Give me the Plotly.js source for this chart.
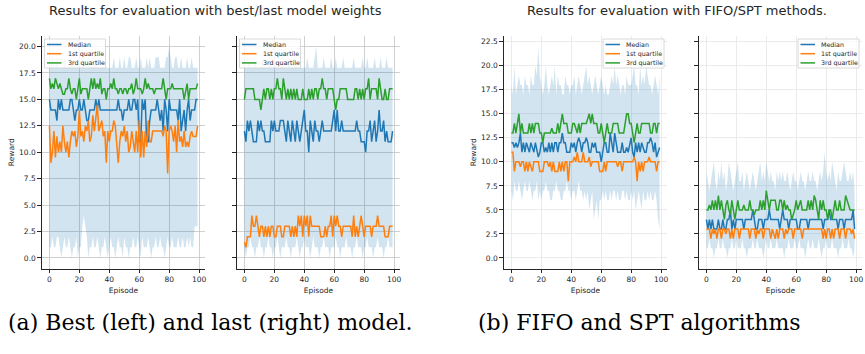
<!DOCTYPE html>
<html>
<head>
<meta charset="utf-8">
<script src="https://cdn.plot.ly/plotly-3.0.1.min.js"></script>
<style>
html,body{margin:0;padding:0;background:#fff;}
#chart{width:865px;height:354px;}
</style>
</head>
<body>
<div id="chart"></div>
<script>
// ---------- data ----------
const episodes = Array.from({length: 100}, (_, i) => i);
const seriesNames = ["Median", "1st quartile", "3rd quartile"];
const panelTitles = ["Results for evaluation with best/last model weights", "Results for evaluation with FIFO/SPT methods."];
const captions = ["(a) Best (left) and last (right) model.", "(b) FIFO and SPT algorithms"];
const xTicks = [0, 20, 40, 60, 80, 100];
const yTicksA = [0, 2.5, 5, 7.5, 10, 12.5, 15, 17.5, 20];
const yTicksB = [0, 2.5, 5, 7.5, 10, 12.5, 15, 17.5, 20, 22.5];

// Panel 1: best model
const bestMedian = [15,14,14,14,14,13,15,14,15,14, 14,14,14,14,15,15,14,13,14,14, 15,14,14,15,14,13,13,14,14,14,
  14,15,14,15,14,14,14,14,14,14, 14,14,14,14,14,14,15,14,14,13, 14,14,14,15,14,14,15,15,14,15,
  11,11,15,14,15,11,11,13,14,14, 14,14,15,14,13,14,12,15,14,12, 15,14,14,14,14,14,13,15,12,13,
  14,12,14,15,13,14,14,14,15,15];
const bestQ1 = [12.5,9,10,12,9.5,11.5,10,11,10,12.5, 11,10,11,9.5,11,12,11.5,12,10.5,11.5, 14,11.5,12,11,12.5,12,13,11,11.5,13.5,
  12,13,14.5,12,12.5,13,11.5,12,9,12, 11,12,12,13,12.5,11,9,11,12,11.5, 12.5,11,12,10,10.5,12,11,10,12,10,
  13,9.5,12,9.5,12,10.5,13,11,11,12, 12,12,12,12,12,12,11.5,12.5,12,8, 12,12.5,12,11,12.5,10,13,11,11.5,10.5,
  12,10.5,11,10.5,11.5,12,11.5,11.5,11.5,12.5];
const bestQ3 = [17,16,16.5,16,17,16.5,16,16.5,16,15.5, 15.5,16,16,17,16,15.5,16,16,15,16, 17,15.5,16,16,16,16,15,16,17,16,
  17,16,16.5,16,17,15.5,16,16,15,16, 16,16.5,16,17,16,16,15.5,16,16,15.5, 16,16,15.5,16,16,16.5,15.5,16,17,16,
  16,16,15.5,16,17,16,16.5,16,16,16, 15.5,16,16,16,16,16,17,16,15,16, 16,16,16.5,16,16,16,16,16,16,16,
  15,16,16.5,15,16,16,16,16,16,16.5];
const bestMin = [1,1,2,1,1,2,2,1,0,1, 2,1,1,2,1,0,1,1,2,0, 1,1,3,4,3,2,0,1,1,2, 1,1,2,1,0,1,1,2,1,0,
  1,2,1,1,0,1,2,1,1,0, 2,1,1,0,1,1,2,1,1,2, 1,0,2,1,1,1,2,1,0,1, 1,2,1,1,2,1,1,0,1,2,
  1,1,2,1,1,1,2,1,1,2, 1,1,2,1,2,1,1,3,3,3];
const bestMax = [18,18,19,18,18,19,18,18,18,18, 19,18,18,18,18,19,18,18,18,19, 18,18,18,18,18,18,19,18,18,18,
  18,19,18,18,18,18,18,18,18,18, 18,18,18,19,18,18,18,19,18,18, 19,18,18,19,19,18,18,18,19,18,
  18,19,18,18,18,19,18,19,18,18, 18,19,19,19,18,18,18,18,19,19, 20,19,18,18,19,19,18,18,19,18,
  18,18,19,18,18,19,18,18,18,18];

// Panel 2: last model
const lastMedian = [12,11,13,12,13,12,11,11,11,13, 12,13,12,12,11,11,11,11,13,12, 13,12,12,12,13,13,13,12,11,13,
  12,11,13,12,11,13,12,11,12,13, 14,12,12,10,13,12,11,13,12,12, 11,12,13,12,12,12,12,12,12,13,
  14,12,14,12,12,13,12,12,12,12, 12,12,12,12,12,13,12,12,11,11, 11,10,12,12,13,11,12,13,11,12,
  14,12,12,13,11,12,11,11,11,12];
const lastQ1 = [1.5,1,2,2,2,4,3,3,4,3, 2,3,3,2,3,2,3,2,3,3, 2,2,3,3,3,2,2,3,3,3, 3,2,3,2,3,2,4,3,4,2,
  4,3,4,2,4,3,3,3,3,3, 3,2,2,2,3,2,3,3,4,2, 4,3,4,3,3,2,3,3,3,3, 3,3,2,4,2,3,2,3,4,3,
  2,3,3,3,3,2,3,3,3,4, 3,3,3,3,2,2,2,3,3,3];
const lastQ3 = [15,16,16,16,16,16,16,15,15,15, 15,14,15,16,15,16,16,15,16,15, 16,16,17,16,16,15,17,16,15,16,
  15,16,15,16,15,16,15,15,15,16, 15,15,15,16,15,16,15,16,16,15, 16,16,17,16,16,15,16,16,16,16,
  15,14,15,15,16,16,16,16,16,15, 15,15,15,15,16,16,15,16,15,16, 15,16,16,17,15,16,16,16,16,15,
  17,16,15,15,16,15,15,16,16,16];
const lastMin = [1,0,1,1,2,1,1,0,1,1, 2,1,1,0,1,1,2,1,1,0, 1,1,2,1,0,1,1,1,2,1, 1,0,1,1,1,2,1,0,1,1,
  2,1,1,1,0,1,2,1,1,1, 0,1,1,2,1,1,1,0,1,1, 1,2,1,1,0,1,1,1,2,1, 1,1,0,1,1,2,1,1,1,0,
  1,1,2,1,1,1,0,1,1,2, 1,1,1,0,1,1,2,1,1,1];
const lastMax = [18,18,18,19,18,18,18,19,18,18, 18,18,19,18,18,18,18,19,18,18, 18,19,18,18,18,19,18,18,18,18,
  19,18,18,18,19,18,18,18,18,18, 18,18,19,18,18,18,18,19,20,18, 18,18,18,19,18,18,18,18,19,18,
  18,19,18,18,18,18,19,18,18,18, 18,18,18,19,18,18,18,18,18,19, 18,18,19,18,18,18,18,19,18,18,
  18,19,18,18,18,19,18,18,18,18];

// Panel 3: FIFO
const fifoMedian = [12,12,11.5,12,11.5,12,13,11,12,11, 12,11.5,11,12,11.5,11,12,11,10.5,11, 12,12,11,11.5,11,12,11,12,11,12,
  12,11,12,12,13,12,12,11,11,11, 12,11.5,12,11,12,12.5,12,11,12,12, 12.5,12,11,11,12,11.5,12,11,11,11,
  10,11,12,12,11,11,13,12,11,13, 12,11,11,11,12,11,11,11.5,11,12, 12.5,11,10.5,12,11,12,11,12,11.5,11,
  11,12,12,12.5,12,11,12,10.5,11,11.5];
const fifoQ1 = [11,11,9,10,10,10,9.5,10,10,9, 10,9,10,9.5,9,10,10,10,10,9, 9,9,10,10,10,9.5,10,9,10,9,
  9,9,10,9,10,9,10,10,8,10, 10,10,10.5,10,11,10,10,10,11,10, 10,10,10.5,9.5,10,10,10,10,10,9,
  9,9,10,9,10,10,10,10,10,10, 10,9.5,10,10,9,10,10,10,10,10, 10,10,10.5,10,8,10,9,10,9,10,
  10,10,10.5,10,10,10,10,9,10,10];
const fifoQ3 = [13,13,14,13,14,15,13,14,13,13, 13,13,14,13,14,13,14,14,14,13, 13,12,13,13,13,13,13,13.5,13,13,
  13,14,13,14,15,14,14,14,13,13, 13,14,14,13.5,13,14,13,14,14,14, 14,14.5,15,14,15,14,14,14,13,13,
  14,13,12,13,14,13,13,13,14,14, 14,14,13,13,13,13,14,15,15,14, 14,13,12,13,14,13,13,14,14,14,
  14,14,14,13,13,14,14,13,14,14];
const fifoMin = [7,6,8,7,7,8,7,6,7,8, 7,7,8,7,6,7,7,8,6,7, 6,7,7,8,7,7,6,6,7,7, 8,7,7,6,6,7,7,8,7,7,
  6,7,7,6,7,8,7,7,6,7, 6,7,5,6,7,4,5,6,4,6, 6,7,6,7,6,6,7,6,7,7, 6,7,6,6,7,7,6,7,6,6,
  7,6,7,5,6,7,6,5,7,6, 6,7,6,7,6,6,7,6,4,3];
const fifoMax = [18,17,20,17,18,19,18,18,17,19, 18,18,17,19,18,18,20,19,22,19, 18,17,18,20,18,17,18,19,18,20,
  17,19,18,18,17,17,19,18,18,17, 18,18,19,17,18,19,18,17,18,19, 20,18,19,18,17,18,19,18,17,18,
  19,18,17,18,17,17,18,19,18,20, 18,19,18,17,18,18,17,19,18,18, 18,19,20,18,18,17,20,18,19,18,
  20,19,18,18,17,18,19,18,17,19];

// Panel 4: SPT
const sptMedian = [4,3,4,3,4,3,3,3,4,3, 3,4,3,3,4,4,5,3,4,3, 4,4,4,4,4,3,4,4,4,4, 4,5,4,3,3,4,4,4,3,4,
  4,4,5,4,4,4,4,4,4,3, 4,5,4,4,4,3,4,4,4,4, 4,3,3,4,4,4,4,4,3,4, 4,4,4,4,4,4,4,4,3,4,
  4,4,5,4,4,4,4,4,3,4, 4,4,3,4,4,4,4,4,5,3];
const sptQ1 = [3,3,3,2,3,2.5,3,2,3,3, 2,3,3,2.5,3,3,2,3,2,3, 3,3,2,3,3,3,3,3,3,2, 3,3,3,2,3,2.5,3,3,2,3,
  3,3,3,2,3,2.5,2,3,2,3, 3,3,2,3,2.5,3,3,3,2,3, 3,3,3,3,2,3,3,3,3,3, 3,3,3,3,3,3,3,3,2,3,
  2,3,3,2,3,2,3,3,3,2, 3,3,3,2,3,3,3,2.5,3,2];
const sptQ3 = [5,5,5.5,5,6,5,6,5,6.5,5, 6,5,4,5.5,6,5,4.5,6,5,4, 5,6,5,5,5,5.5,5,5,5,6, 5,5,4.5,5,5,5,6,5,6,5,
  7,6,5,6,6,6,6,5,5,6, 6,5,6,5,5.5,5,5,4,4.5,5, 6,5,5.5,6,5,5,5,5,6,5, 6,5,6.5,6,5,4,6,5,6,5,
  5,4,5,5,4,5,6,5,5,6, 5,5,5,6.5,6,5.5,5,5,5,5];
const sptMin = [1,1,2,1,1,0,1,1,2,1, 1,2,1,1,0,1,1,2,1,1, 2,1,1,1,2,1,1,0,1,1, 1,2,1,1,2,1,1,1,0,1,
  2,1,1,2,1,1,1,2,1,1, 1,1,0,1,1,2,1,1,1,2, 1,1,2,1,1,1,0,1,2,1, 1,2,1,1,1,2,1,0,1,1,
  2,1,1,1,2,1,1,1,0,1, 1,2,1,1,1,2,1,1,0,1];
const sptMax = [9,8,7,8,9,10,8,7,9,8, 10,8,9,7,8,10,9,8,7,8, 9,10,8,8,9,7,8,9,8,7, 8,9,8,7,8,9,10,8,9,8,
  10,9,8,9,8,8,7,9,8,9, 8,9,8,8,9,8,7,8,9,8, 8,7,8,9,8,8,7,8,9,8, 8,9,8,8,7,8,9,8,9,11,
  9,8,9,8,10,9,8,7,9,8, 8,9,10,9,8,8,9,8,9,7];

// ---------- styling / layout ----------
const W = 865, H = 354;
const colors = ["#1f77b4", "#ff7f0e", "#2ca02c"];
const bandColor = "rgba(31,119,180,0.2)";
const FONT = "DejaVu Sans, sans-serif";
const TXT = "#262626";

const panels = [
  {med: bestMedian, q1: bestQ1, q3: bestQ3, lo: bestMin, hi: bestMax, px: [42, 205], yr: [-1, 21], yt: yTicksA, lab: true, leg: "left", grid: "#c4c4c4"},
  {med: lastMedian, q1: lastQ1, q3: lastQ3, lo: lastMin, hi: lastMax, px: [237, 400], yr: [-1, 21], yt: yTicksA, lab: false, leg: "left", grid: "#c4c4c4"},
  {med: fifoMedian, q1: fifoQ1, q3: fifoQ3, lo: fifoMin, hi: fifoMax, px: [504, 667], yr: [-1.1, 23.1], yt: yTicksB, lab: true, leg: "right", grid: "#e6e6e6"},
  {med: sptMedian, q1: sptQ1, q3: sptQ3, lo: sptMin, hi: sptMax, px: [699, 862], yr: [-1.1, 23.1], yt: yTicksB, lab: false, leg: "right", grid: "#e6e6e6"}
];
const plotTop = 36, plotBottom = 268.5;

const traces = [];
const layout = {
  width: W, height: H,
  margin: {l: 0, r: 0, t: 0, b: 0},
  paper_bgcolor: "#fff", plot_bgcolor: "rgba(0,0,0,0)",
  showlegend: false,
  font: {family: FONT, color: TXT},
  shapes: [], annotations: []
};

panels.forEach((p, i) => {
  const n = i + 1;
  const xa = "x" + (n === 1 ? "" : n), ya = "y" + (n === 1 ? "" : n);
  const xk = "xaxis" + (n === 1 ? "" : n), yk = "yaxis" + (n === 1 ? "" : n);
  traces.push({x: episodes, y: p.lo, xaxis: xa, yaxis: ya, type: "scatter", mode: "lines", line: {width: 0, color: bandColor}, hoverinfo: "skip"});
  traces.push({x: episodes, y: p.hi, xaxis: xa, yaxis: ya, type: "scatter", mode: "lines", line: {width: 0, color: bandColor}, fill: "tonexty", fillcolor: bandColor, hoverinfo: "skip"});
  [p.med, p.q1, p.q3].forEach((s, k) => {
    traces.push({x: episodes, y: s, xaxis: xa, yaxis: ya, type: "scatter", mode: "lines", name: seriesNames[k], line: {color: colors[k], width: 1.5}});
  });
  layout[xk] = {
    domain: [p.px[0] / W, p.px[1] / W], anchor: ya, range: [-4.95, 103.95],
    tickvals: xTicks, ticktext: xTicks.map(String), ticks: "outside", ticklen: 3.5, tickwidth: 1, tickcolor: TXT,
    tickfont: {size: 7.5, color: TXT, family: FONT},
    showline: true, linecolor: TXT, linewidth: 1.2, mirror: false,
    showgrid: true, gridcolor: p.grid, gridwidth: 0.8, zeroline: false,
    title: {text: "Episode", font: {size: 7.5, color: TXT, family: FONT}, standoff: 4}
  };
  layout[yk] = {
    domain: [1 - plotBottom / H, 1 - plotTop / H], anchor: xa, range: p.yr,
    tickvals: p.yt, ticktext: p.yt.map(v => v.toFixed(1)), ticks: "outside", ticklen: 3.5, tickwidth: 1, tickcolor: TXT,
    showticklabels: p.lab, tickfont: {size: 7.5, color: TXT, family: FONT},
    showline: true, linecolor: TXT, linewidth: 1.2, mirror: false,
    showgrid: true, gridcolor: p.grid, gridwidth: 0.8, zeroline: false,
    title: p.lab ? {text: "Reward", font: {size: 7.5, color: TXT, family: FONT}, standoff: 3} : {text: ""}
  };
  // legend (drawn manually)
  const bw = 61, bh = 29;
  const bx = p.leg === "left" ? p.px[0] + 2.5 : p.px[1] - 3 - bw;
  const by = 39;
  layout.shapes.push({type: "rect", xref: "paper", yref: "paper", x0: bx / W, x1: (bx + bw) / W, y0: 1 - by / H, y1: 1 - (by + bh) / H,
    line: {color: "#d0d0d0", width: 0.8}, fillcolor: "rgba(255,255,255,0.8)", layer: "above"});
  seriesNames.forEach((nm, k) => {
    const ry = by + 5.5 + k * 9.2;
    layout.shapes.push({type: "line", xref: "paper", yref: "paper", x0: (bx + 2.5) / W, x1: (bx + 17) / W, y0: 1 - ry / H, y1: 1 - ry / H,
      line: {color: colors[k], width: 1.5}, layer: "above"});
    layout.annotations.push({xref: "paper", yref: "paper", x: (bx + 21) / W, y: 1 - ry / H, xanchor: "left", yanchor: "middle",
      text: nm, showarrow: false, font: {size: 6.3, color: TXT, family: FONT}});
  });
});

// panel titles
layout.annotations.push({xref: "paper", yref: "paper", x: 215 / W, y: 1 - 11 / H, xanchor: "center", yanchor: "middle",
  text: panelTitles[0], showarrow: false, font: {size: 13, color: TXT, family: FONT}});
layout.annotations.push({xref: "paper", yref: "paper", x: 677 / W, y: 1 - 11 / H, xanchor: "center", yanchor: "middle",
  text: panelTitles[1], showarrow: false, font: {size: 13, color: TXT, family: FONT}});
// captions
layout.annotations.push({xref: "paper", yref: "paper", x: 210 / W, y: 1 - 322 / H, xanchor: "center", yanchor: "middle",
  text: captions[0], showarrow: false, font: {size: 22, color: "#000", family: "DejaVu Serif, serif"}});
layout.annotations.push({xref: "paper", yref: "paper", x: 639 / W, y: 1 - 322 / H, xanchor: "center", yanchor: "middle",
  text: captions[1], showarrow: false, font: {size: 22, color: "#000", family: "DejaVu Serif, serif"}});

Plotly.newPlot("chart", traces, layout, {staticPlot: true, displayModeBar: false});
</script>
</body>
</html>
